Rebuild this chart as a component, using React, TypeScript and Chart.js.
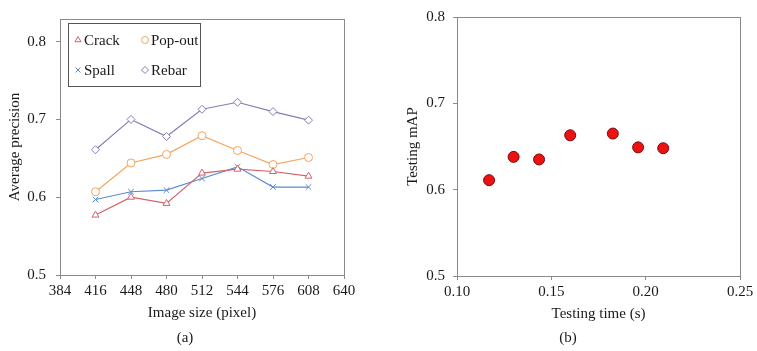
import React, { useEffect, useRef } from "react";
import { Chart, registerables } from "chart.js";
import { drawPoint } from "chart.js/helpers";

Chart.register(...registerables);

const imageSizes = [416, 448, 480, 512, 544, 576, 608];
const crackAP = [0.577, 0.600, 0.592, 0.631, 0.636, 0.633, 0.627];
const popoutAP = [0.607, 0.644, 0.655, 0.679, 0.660, 0.642, 0.651];
const spallAP = [0.597, 0.607, 0.609, 0.624, 0.639, 0.613, 0.613];
const rebarAP = [0.661, 0.700, 0.678, 0.713, 0.722, 0.710, 0.699];
const yTicks = [0.5, 0.6, 0.7, 0.8];

const testingTime = [0.117, 0.130, 0.1435, 0.160, 0.1826, 0.196, 0.2093];
const testingMAP = [0.611, 0.638, 0.635, 0.663, 0.665, 0.649, 0.648];

const FONT = "'Liberation Serif', 'Times New Roman', serif";
const AXIS = "#8a8a8a";
const TXT = "#1a1a1a";

const frame = {
  id: "frame",
  afterDatasetsDraw(chart: any) {
    const { ctx, chartArea: a } = chart;
    ctx.save();
    ctx.strokeStyle = AXIS;
    ctx.lineWidth = 1;
    ctx.strokeRect(Math.round(a.left) + 0.5, Math.round(a.top) + 0.5, Math.round(a.right - a.left), Math.round(a.bottom - a.top));
    ctx.restore();
  },
};

const boxLegend = {
  id: "boxLegend",
  afterDraw(chart: any) {
    const { ctx, chartArea: a } = chart;
    const ds = chart.data.datasets;
    const x0 = a.left + 8;
    const y0 = a.top + 4;
    ctx.save();
    ctx.fillStyle = "#fff";
    ctx.fillRect(x0, y0, 132, 63);
    ctx.strokeStyle = "#555";
    ctx.lineWidth = 1;
    ctx.strokeRect(Math.round(x0) + 0.5, Math.round(y0) + 0.5, 132, 63);
    ctx.font = `15px ${FONT}`;
    ctx.textBaseline = "middle";
    ds.forEach((d: any, i: number) => {
      const col = i % 2;
      const row = Math.floor(i / 2);
      const mx = x0 + 10 + col * 67;
      const my = y0 + 17 + row * 30;
      ctx.fillStyle = "#fff";
      ctx.strokeStyle = d.borderColor;
      ctx.lineWidth = 1;
      drawPoint(ctx, { pointStyle: d.pointStyle, radius: 3.5, rotation: 0, borderWidth: 1 } as any, mx, my);
      ctx.fillStyle = TXT;
      ctx.textAlign = "left";
      ctx.fillText(d.label, mx + 6, my + 1);
    });
    ctx.restore();
  },
};

function lineDs(label: string, data: number[], color: string, style: string) {
  return {
    label,
    data: imageSizes.map((x, i) => ({ x, y: data[i] })),
    borderColor: color,
    backgroundColor: "#fff",
    pointBorderColor: color,
    pointBackgroundColor: "#fff",
    pointStyle: style,
    pointRadius: 4,
    pointBorderWidth: 1,
    borderWidth: 1.2,
    tension: 0,
  };
}

const tickFont = { family: FONT, size: 15 };
const titleFont = { family: FONT, size: 15 };

export default function App() {
  const leftRef = useRef<HTMLCanvasElement>(null);
  const rightRef = useRef<HTMLCanvasElement>(null);

  useEffect(() => {
    const left = new Chart(leftRef.current!, {
      type: "line",
      data: {
        datasets: [
          lineDs("Crack", crackAP, "#d0636c", "triangle"),
          lineDs("Pop-out", popoutAP, "#f4a55e", "circle"),
          lineDs("Spall", spallAP, "#5b8ccc", "crossRot"),
          lineDs("Rebar", rebarAP, "#8a7bb6", "rectRot"),
        ] as any,
      },
      options: {
        animation: false,
        responsive: false,
        layout: { padding: { left: 0, top: 12, right: 34, bottom: 29 } },
        plugins: { legend: { display: false }, tooltip: { enabled: false } },
        scales: {
          x: {
            type: "linear",
            min: 384,
            max: 640,
            afterFit: (s: any) => { s.height = 47; },
            ticks: { stepSize: 32, font: tickFont, color: TXT, padding: 3, maxRotation: 0 },
            grid: { drawOnChartArea: false, drawTicks: true, tickLength: 4, color: AXIS },
            border: { display: true, color: AXIS },
            title: { display: true, text: "Image size (pixel)", font: titleFont, color: TXT, padding: { top: 0, bottom: 0 } },
          },
          y: {
            type: "linear",
            min: 0.5,
            max: 0.829,
            afterFit: (s: any) => { s.width = 60; },
            afterBuildTicks: (s: any) => { s.ticks = yTicks.map((v) => ({ value: v })); },
            ticks: { font: tickFont, color: TXT, padding: 10, callback: (v: any) => Number(v).toFixed(1) },
            grid: { drawOnChartArea: false, drawTicks: true, tickLength: 4, color: AXIS },
            border: { display: true, color: AXIS },
            title: { display: true, text: "Average precision", font: titleFont, color: TXT, padding: { top: 6, bottom: 0 } },
          },
        },
      } as any,
      plugins: [frame, boxLegend],
    });

    const right = new Chart(rightRef.current!, {
      type: "scatter",
      data: {
        datasets: [
          {
            label: "mAP",
            data: testingTime.map((x, i) => ({ x, y: testingMAP[i] })),
            pointRadius: 5.5,
            pointBackgroundColor: "#ee1111",
            pointBorderColor: "#7a0a0a",
            pointBorderWidth: 1,
          },
        ],
      },
      options: {
        animation: false,
        responsive: false,
        layout: { padding: { left: 19, top: 14, right: 17, bottom: 28 } },
        plugins: { legend: { display: false }, tooltip: { enabled: false } },
        scales: {
          x: {
            type: "linear",
            min: 0.1,
            max: 0.25,
            afterFit: (s: any) => { s.height = 47; },
            ticks: { stepSize: 0.05, font: tickFont, color: TXT, padding: 3, maxRotation: 0, callback: (v: any) => Number(v).toFixed(2) },
            grid: { drawOnChartArea: false, drawTicks: true, tickLength: 4, color: AXIS },
            border: { display: true, color: AXIS },
            title: { display: true, text: "Testing time (s)", font: titleFont, color: TXT, padding: { top: 0, bottom: 0 } },
          },
          y: {
            type: "linear",
            min: 0.5,
            max: 0.8,
            afterFit: (s: any) => { s.width = 59; },
            afterBuildTicks: (s: any) => { s.ticks = yTicks.map((v) => ({ value: v })); },
            ticks: { font: tickFont, color: TXT, padding: 8, callback: (v: any) => Number(v).toFixed(1) },
            grid: { drawOnChartArea: false, drawTicks: true, tickLength: 4, color: AXIS },
            border: { display: true, color: AXIS },
            title: { display: true, text: "Testing mAP", font: titleFont, color: TXT, padding: { top: 6, bottom: 0 } },
          },
        },
      } as any,
      plugins: [frame],
    });

    return () => {
      left.destroy();
      right.destroy();
    };
  }, []);

  const cap: React.CSSProperties = {
    position: "absolute",
    top: 327,
    fontFamily: FONT,
    fontSize: 15,
    color: TXT,
    width: 40,
    textAlign: "center",
    lineHeight: "20px",
  };

  return (
    <div style={{ position: "fixed", left: 0, top: 0, width: 757, height: 351, background: "#fff", overflow: "hidden" }}>
      <canvas ref={leftRef} width={378} height={351} style={{ position: "absolute", left: 0, top: 0 }} />
      <canvas ref={rightRef} width={378} height={351} style={{ position: "absolute", left: 379, top: 0 }} />
      <div style={{ ...cap, left: 185 - 20 }}>(a)</div>
      <div style={{ ...cap, left: 568 - 20 }}>(b)</div>
    </div>
  );
}
